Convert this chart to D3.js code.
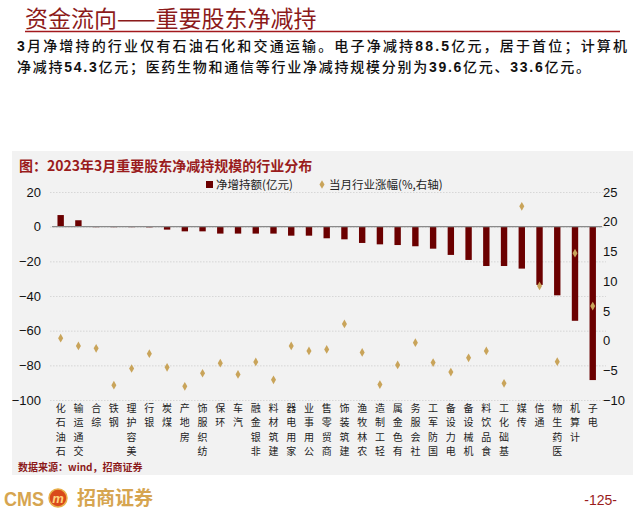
<!DOCTYPE html>
<html><head><meta charset="utf-8">
<script src="https://cdn.jsdelivr.net/npm/d3@7"></script>
<style>
html,body{margin:0;padding:0;background:#fff;}
svg{display:block;}
</style></head>
<body>
<svg id="c" width="640" height="512"></svg>
<script>
const categories = ["石油石化","交通运输","综合","钢铁","美容护理","银行","煤炭","房地产","纺织服饰","环保","汽车","非银金融","建筑材料","家用电器","公用事业","商贸零售","建筑装饰","农林牧渔","轻工制造","有色金属","社会服务","国防军工","电力设备","机械设备","食品饮料","基础化工","传媒","通信","医药生物","计算机","电子"];
const netHold = [6.7,3.7,-0.3,-0.3,-0.3,-0.4,-1.7,-2.7,-2.7,-4.0,-4.0,-4.0,-4.0,-5.2,-5.2,-6.7,-7.3,-9.4,-10.2,-10.6,-11.3,-12.7,-16.3,-19.2,-22.7,-22.7,-24.2,-33.6,-39.6,-54.3,-88.5];
const industryChange = [0.4,-0.9,-1.3,-7.5,-4.7,-2.2,-4.5,-7.7,-5.5,-3.8,-5.7,-3.6,-6.6,-0.9,-1.75,-1.5,2.8,-2.0,-7.4,-4.1,-0.35,-3.7,-5.3,-2.9,-1.75,-7.2,22.6,9.2,-3.55,14.7,5.8];
const leftTicks = [20,0,-20,-40,-60,-80,-100];
const rightTicks = [25,20,15,10,5,0,-5,-10];
const seriesNames = ["净增持额(亿元)","当月行业涨幅(%,右轴)"];

const svg = d3.select("#c");
const CJK = "'Noto Sans CJK SC','Noto Sans',sans-serif";
const LAT = "'Liberation Sans',Arial,sans-serif";
const darkRed = "#8c1a1a";

// page title
svg.append("text").attr("x",25).attr("y",27).attr("font-family",CJK).attr("font-size",23)
  .attr("fill",darkRed).text("资金流向——重要股东净减持");
svg.append("line").attr("x1",25).attr("x2",620).attr("y1",31.5).attr("y2",31.5)
  .attr("stroke","#a3191d").attr("stroke-width",1.5);

// paragraph
function para(y, parts, len){
  const t = svg.append("text").attr("x",17).attr("y",y).attr("font-family",CJK)
    .attr("font-size",14).attr("fill","#111").attr("font-weight",500);
  if(len) t.attr("textLength",len).attr("lengthAdjust","spacing");
  parts.forEach(p=>{
    t.append("tspan").attr("font-weight",p[1]?700:500)
     .attr("font-family",p[1]?LAT:CJK).text(p[0]);
  });
}
para(51,[["3",1],["月净增持的行业仅有石油石化和交通运输。电子净减持",0],["88.5",1],["亿元，居于首位；计算机",0]],610);
para(72,[["净减持",0],["54.3",1],["亿元；医药生物和通信等行业净减持规模分别为",0],["39.6",1],["亿元、",0],["33.6",1],["亿元。",0]],573);

// panel
svg.append("rect").attr("x",12).attr("y",151).attr("width",621).attr("height",324).attr("fill","#f2f2f2");

svg.append("text").attr("x",19).attr("y",171).attr("font-family",CJK).attr("font-size",14)
  .attr("font-weight",700).attr("fill","#9a1c1c").text("图：2023年3月重要股东净减持规模的行业分布");

const yL = d3.scaleLinear().domain([-100,20]).range([400,192]);
const yR = d3.scaleLinear().domain([-10,25]).range([400,192]);
const x = d3.scaleBand().domain(categories).range([51.8,601.6]).paddingInner(0.64).paddingOuter(0.32);

// gridlines
svg.append("g").selectAll("line").data(leftTicks).join("line")
  .attr("x1",50).attr("x2",606).attr("y1",d=>yL(d)+0.5).attr("y2",d=>yL(d)+0.5)
  .attr("stroke","#cfcfcf").attr("stroke-width",0.8).attr("stroke-dasharray","1.5,1.5");

// axes
const gL = svg.append("g").attr("transform","translate(41,0)")
  .call(d3.axisLeft(yL).tickValues(leftTicks).tickSize(0).tickPadding(0));
gL.select(".domain").remove();
gL.selectAll("text").attr("font-family",LAT).attr("font-size",13).attr("fill","#111");
const gR = svg.append("g").attr("transform","translate(603,0)")
  .call(d3.axisRight(yR).tickValues(rightTicks).tickSize(0).tickPadding(0));
gR.select(".domain").remove();
gR.selectAll("text").attr("font-family",LAT).attr("font-size",13).attr("fill","#111");

// bars
svg.append("g").selectAll("rect").data(netHold).join("rect")
  .attr("x",(d,i)=>x(categories[i]))
  .attr("width",x.bandwidth())
  .attr("y",d=>yL(Math.max(0,d)))
  .attr("height",d=>Math.abs(yL(d)-yL(0)))
  .attr("fill","#6b0000");

// zero line
svg.append("line").attr("x1",52).attr("x2",602).attr("y1",yL(0)).attr("y2",yL(0))
  .attr("stroke","#8a8a8a").attr("stroke-width",1.2);

// diamonds
const diamond = d3.symbol().type(d3.symbolDiamond).size(22);
svg.append("g").selectAll("path").data(industryChange).join("path")
  .attr("d",diamond)
  .attr("transform",(d,i)=>`translate(${x(categories[i])+x.bandwidth()/2},${yR(d)})`)
  .attr("fill","#c9a45a");

// x labels (stacked upright, reading bottom to top, top aligned)
const xl = svg.append("g");
categories.forEach(c=>{
  const chars = Array.from(c).reverse();
  const cx = x(c)+x.bandwidth()/2;
  chars.forEach((ch,j)=>{
    xl.append("text").attr("x",cx).attr("y",411.5+j*14.5).attr("text-anchor","middle")
      .attr("font-family",CJK).attr("font-size",10).attr("fill","#222").text(ch);
  });
});

// legend
svg.append("rect").attr("x",206).attr("y",181).attr("width",7).attr("height",7).attr("fill","#6b0000");
svg.append("text").attr("x",216).attr("y",188.5).attr("font-family",CJK).attr("font-size",11.5)
  .attr("fill","#222").text(seriesNames[0]);
svg.append("path").attr("d",diamond).attr("transform","translate(322,184.5)").attr("fill","#c9a45a");
svg.append("text").attr("x",329).attr("y",188.5).attr("font-family",CJK).attr("font-size",11.5)
  .attr("fill","#222").text(seriesNames[1]);

// source
svg.append("text").attr("x",18).attr("y",470.5).attr("font-family",CJK).attr("font-size",10)
  .attr("font-weight",700).attr("fill","#8c1a1a").text("数据来源：wind，招商证券");

// logo
svg.append("text").attr("x",4).attr("y",506).attr("font-family",LAT).attr("font-size",20)
  .attr("font-weight",700).attr("fill","#d6a550").attr("textLength",40).attr("lengthAdjust","spacingAndGlyphs").text("CMS");
svg.append("circle").attr("cx",58).attr("cy",498).attr("r",9).attr("fill","#d9491a").attr("stroke","#e8b04a").attr("stroke-width",1.5);
svg.append("text").attr("x",58).attr("y",502.5).attr("text-anchor","middle").attr("font-family",LAT)
  .attr("font-size",13).attr("font-style","italic").attr("font-weight",700).attr("fill","#ffd27a").text("m");
svg.append("text").attr("x",77).attr("y",505).attr("font-family",CJK).attr("font-size",19)
  .attr("font-weight",700).attr("fill","#d6a550").text("招商证券");

svg.append("text").attr("x",617).attr("y",505).attr("text-anchor","end").attr("font-family",LAT)
  .attr("font-size",14).attr("fill","#9a1c1c").text("-125-");
</script>
</body></html>
